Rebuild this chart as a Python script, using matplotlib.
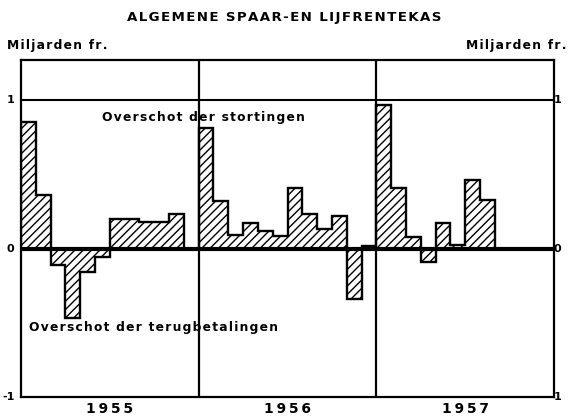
import matplotlib
matplotlib.use("Agg")
import matplotlib.pyplot as plt
import numpy as np

# ---- data (billions of francs, monthly net deposits) ----
years = ["1955", "1956", "1957"]
values_1955 = [0.85, 0.36, -0.11, -0.47, -0.155, -0.06, 0.20, 0.20, 0.18, 0.18, 0.23, 0.0]
values_1956 = [0.815, 0.32, 0.09, 0.17, 0.117, 0.085, 0.41, 0.236, 0.13, 0.22, -0.34, 0.015]
values_1957 = [0.965, 0.41, 0.08, -0.09, 0.17, 0.025, 0.46, 0.33]
title = "ALGEMENE SPAAR-EN LIJFRENTEKAS"
unit_label = "Miljarden fr."
label_pos = "Overschot der stortingen"
label_neg = "Overschot der terugbetalingen"
ytick_vals = [1, 0, -1]
ytick_labels = ["1", "0", "-1"]

plt.rcParams['hatch.linewidth'] = 1.0
FONT = "DejaVu Sans"


def spaced(s, sep="\u200A"):
    return sep.join(list(s))


values = np.array(values_1955 + values_1956 + values_1957)
edges = np.arange(len(values) + 1)

fig = plt.figure(figsize=(5.68, 4.2), dpi=100)
W, H = 568, 420
ax = fig.add_axes([21 / W, 1 - 397 / H, (554 - 21) / W, (397 - 60) / H])
ax.set_xlim(0, 36)
ax.set_ylim(-1, 1.27)

# hatched bars
ax.bar(edges[:-1], values, width=1.0, align='edge', facecolor='none',
       edgecolor='black', linewidth=0, hatch='////', zorder=2)
# step outline
ax.stairs(values, edges, baseline=0, color='black', linewidth=1.7, zorder=3)

# reference lines
ax.axhline(0, color='black', linewidth=3.0, zorder=4)
ax.axhline(1, color='black', linewidth=1.5, zorder=1)
for xv in (12, 24):
    ax.axvline(xv, color='black', linewidth=1.6, zorder=1)

for sp in ax.spines.values():
    sp.set_linewidth(1.6)
ax.set_xticks([])
ax.set_yticks([])

# y labels left & right
for v, lab in zip(ytick_vals, ytick_labels):
    ax.text(-0.45, v, lab, ha='right', va='center', fontsize=8, fontweight='bold',
            family=FONT, clip_on=False)
    ax.text(35.95, v, lab.replace("-", ""), ha='left', va='center', fontsize=8,
            fontweight='bold', family=FONT, clip_on=False,
            transform=ax.transData)

# year labels
for i, y in enumerate(years):
    ax.text(12 * i + 6, -1.035, spaced(y, "\u2009"), ha='center', va='top', fontsize=10,
            fontweight='bold', family=FONT, clip_on=False)

# annotations inside
ax.text(5.5, 0.88, spaced(label_pos), ha='left', va='center', fontsize=8.8,
        family=FONT, fontweight='semibold')
ax.text(0.55, -0.53, spaced(label_neg), ha='left', va='center', fontsize=8.8,
        family=FONT, fontweight='semibold')

# title and unit labels
fig.text(284 / W, 1 - 18 / H, spaced(title), ha='center', va='center', fontsize=9.6,
         fontweight='bold', family=FONT)
fig.text(7 / W, 1 - 46 / H, spaced(unit_label), ha='left', va='center', fontsize=8.8,
         fontweight='semibold', family=FONT)
fig.text(566 / W, 1 - 46 / H, spaced(unit_label), ha='right', va='center', fontsize=8.8,
         fontweight='semibold', family=FONT)

fig.savefig("out.png", dpi=100, facecolor='white')
